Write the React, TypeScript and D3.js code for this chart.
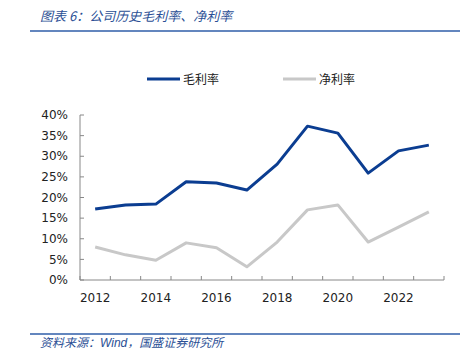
import * as d3 from "d3";

const years = ["2012", "2013", "2014", "2015", "2016", "2017", "2018", "2019", "2020", "2021", "2022", "2023"];
const grossMargin = [0.172, 0.182, 0.184, 0.238, 0.235, 0.218, 0.281, 0.373, 0.356, 0.259, 0.313, 0.327];
const netMargin = [0.08, 0.061, 0.048, 0.09, 0.078, 0.032, 0.092, 0.17, 0.182, 0.092, 0.128, 0.165];
const yTicks = [0, 0.05, 0.1, 0.15, 0.2, 0.25, 0.3, 0.35, 0.4];
const xLabels = ["2012", "2014", "2016", "2018", "2020", "2022"];

const W = 475;
const H = 363;
const left = 80;
const right = 444;
const top = 115;
const bottom = 280;

export default function App() {
  const x = d3.scaleBand<string>().domain(years).range([left, right]);
  const y = d3.scaleLinear().domain([0, 0.4]).range([bottom, top]);
  const cx = (d: string) => (x(d) ?? 0) + x.bandwidth() / 2;

  const line = d3.line<number>((_, i) => cx(years[i]), (d) => y(d));
  const axisFont = "'DejaVu Sans', Verdana, sans-serif";
  const cjk = "'Noto Sans CJK SC', sans-serif";

  // category boundaries for ticks on the x axis
  const bounds = years.map((d) => x(d) ?? 0).concat([right]);

  return (
    <svg width={W} height={H} style={{ position: "absolute", left: 0, top: 0 }}>
      <rect width={W} height={H} fill="white" />
      {/* title */}
      <text x={40} y={21} fontFamily={cjk} fontStyle="italic" fontSize={13} fill="#2b4f95">
        图表 6：公司历史毛利率、净利率
      </text>
      <line x1={30} x2={460} y1={31} y2={31} stroke="#2f5ea8" strokeWidth={1.5} />

      {/* legend */}
      <line x1={147} x2={180} y1={79} y2={79} stroke="#0b3d91" strokeWidth={3} />
      <text x={183} y={83.5} fontFamily={cjk} fontSize={12} fill="#222">毛利率</text>
      <line x1={283} x2={316} y1={79} y2={79} stroke="#c8c8c8" strokeWidth={3} />
      <text x={319} y={83.5} fontFamily={cjk} fontSize={12} fill="#222">净利率</text>

      {/* y axis */}
      <line x1={left} x2={left} y1={top} y2={bottom} stroke="#888" />
      {yTicks.map((t) => (
        <g key={t}>
          <line x1={left} x2={left + 4} y1={y(t)} y2={y(t)} stroke="#888" />
          <text x={left - 12} y={y(t)} dy="0.35em" textAnchor="end" fontFamily={axisFont} fontSize={12} fill="#222">
            {`${Math.round(t * 100)}%`}
          </text>
        </g>
      ))}

      {/* x axis */}
      <line x1={left} x2={right} y1={bottom} y2={bottom} stroke="#888" />
      {bounds.map((b, i) => (
        <line key={i} x1={b} x2={b} y1={bottom} y2={bottom - 4} stroke="#888" />
      ))}
      {xLabels.map((d) => (
        <text key={d} x={cx(d)} y={bottom + 22} textAnchor="middle" fontFamily={axisFont} fontSize={12} fill="#222">
          {d}
        </text>
      ))}

      {/* series */}
      <path d={line(netMargin) ?? ""} fill="none" stroke="#c8c8c8" strokeWidth={3} strokeLinejoin="round" />
      <path d={line(grossMargin) ?? ""} fill="none" stroke="#0b3d91" strokeWidth={3} strokeLinejoin="round" />

      {/* footer */}
      <line x1={30} x2={460} y1={334} y2={334} stroke="#2f5ea8" strokeWidth={1.5} />
      <text x={40} y={347} fontFamily={cjk} fontStyle="italic" fontSize={12} fill="#2b4f95">
        资料来源：<tspan fontFamily="'Liberation Sans', Arial, sans-serif">Wind</tspan>，国盛证券研究所
      </text>
    </svg>
  );
}
